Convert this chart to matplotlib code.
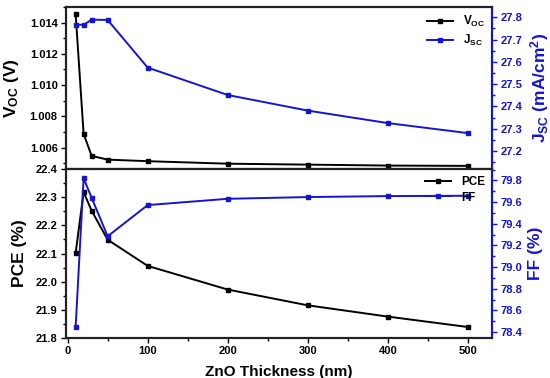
import matplotlib
matplotlib.use('Agg')
import matplotlib.pyplot as plt
from matplotlib.ticker import MultipleLocator

plt.rcParams['font.family'] = ['Liberation Sans', 'DejaVu Sans']
plt.rcParams['font.weight'] = 'bold'
plt.rcParams['mathtext.fontset'] = 'custom'
plt.rcParams['mathtext.rm'] = 'Liberation Sans:bold'
plt.rcParams['mathtext.it'] = 'Liberation Sans:bold'
plt.rcParams['mathtext.bf'] = 'Liberation Sans:bold'

# ZnO thickness (nm)
thickness = [10, 20, 30, 50, 100, 200, 300, 400, 500]
voc = [1.01458, 1.00688, 1.00547, 1.00523, 1.00513, 1.00497, 1.00491, 1.00485, 1.00483]
jsc = [27.767, 27.766, 27.789, 27.788, 27.574, 27.451, 27.381, 27.325, 27.280]
pce = [22.101, 22.318, 22.252, 22.149, 22.056, 21.972, 21.916, 21.876, 21.839]
ff = [78.442, 79.82, 79.64, 79.284, 79.572, 79.63, 79.646, 79.655, 79.658]

blue = '#1414d2'

fig = plt.figure(figsize=(5.5, 3.78), dpi=100)
ax1 = fig.add_axes([0.12, 0.5529, 0.7745, 0.4286])
ax3 = fig.add_axes([0.12, 0.1058, 0.7745, 0.4471])
ax2 = ax1.twinx()
ax4 = ax3.twinx()

mk = dict(marker='s', markersize=3.5, linewidth=1.4)
l1, = ax1.plot(thickness, voc, color='black', label='V$_{OC}$', **mk)
l2, = ax2.plot(thickness, jsc, color=blue, label='J$_{SC}$', **mk)
l3, = ax3.plot(thickness, pce, color='black', label='PCE', **mk)
l4, = ax4.plot(thickness, ff, color=blue, label='FF', **mk)

for ax in (ax1, ax3):
    ax.set_xlim(-2, 530)
    ax.xaxis.set_major_locator(MultipleLocator(100))
    ax.xaxis.set_minor_locator(MultipleLocator(50))

ax1.set_ylim(1.00463, 1.0150)
ax1.yaxis.set_major_locator(MultipleLocator(0.002))
ax1.yaxis.set_minor_locator(MultipleLocator(0.001))
ax1.tick_params(axis='x', labelbottom=False)

ax2.set_ylim(27.119, 27.846)
ax2.yaxis.set_major_locator(MultipleLocator(0.1))
ax2.yaxis.set_minor_locator(MultipleLocator(0.05))

ax3.set_ylim(21.8, 22.4)
ax3.yaxis.set_major_locator(MultipleLocator(0.1))
ax3.yaxis.set_minor_locator(MultipleLocator(0.05))

ax4.set_ylim(78.345, 79.905)
ax4.yaxis.set_major_locator(MultipleLocator(0.2))
ax4.yaxis.set_minor_locator(MultipleLocator(0.1))

for ax in (ax1, ax2, ax3, ax4):
    for s in ax.spines.values():
        s.set_linewidth(1.5)
        s.set_color('#222222')
    ax.tick_params(which='both', direction='out', labelsize=8, width=1.0, pad=2.5)
    ax.tick_params(which='major', length=3.5)
    ax.tick_params(which='minor', length=2)
    for lab in ax.get_xticklabels() + ax.get_yticklabels():
        lab.set_fontweight('bold')

for ax in (ax2, ax4):
    ax.spines['right'].set_color(blue)
    ax.tick_params(axis='y', which='both', colors=blue)

ax1.set_ylabel('V$_{OC}$ (V)', fontsize=12.5, fontweight='bold', labelpad=6)
ax2.set_ylabel('J$_{SC}$ (mA/cm$^2$)', fontsize=12.5, fontweight='bold', color=blue, labelpad=4)
ax3.set_ylabel('PCE (%)', fontsize=12.5, fontweight='bold', labelpad=6)
ax4.set_ylabel('FF (%)', fontsize=12.5, fontweight='bold', color=blue, labelpad=4)
ax3.set_xlabel('ZnO Thickness (nm)', fontsize=11, fontweight='bold', labelpad=6)

ax2.legend(handles=[l1, l2], loc='upper right', frameon=False, fontsize=8.5,
           handlelength=2.2, borderaxespad=0.2, labelspacing=0.3)
ax4.legend(handles=[l3, l4], loc='upper right', frameon=False, fontsize=8.5,
           handlelength=2.2, borderaxespad=0.2, labelspacing=0.3)

fig.savefig('out.png', dpi=100)
